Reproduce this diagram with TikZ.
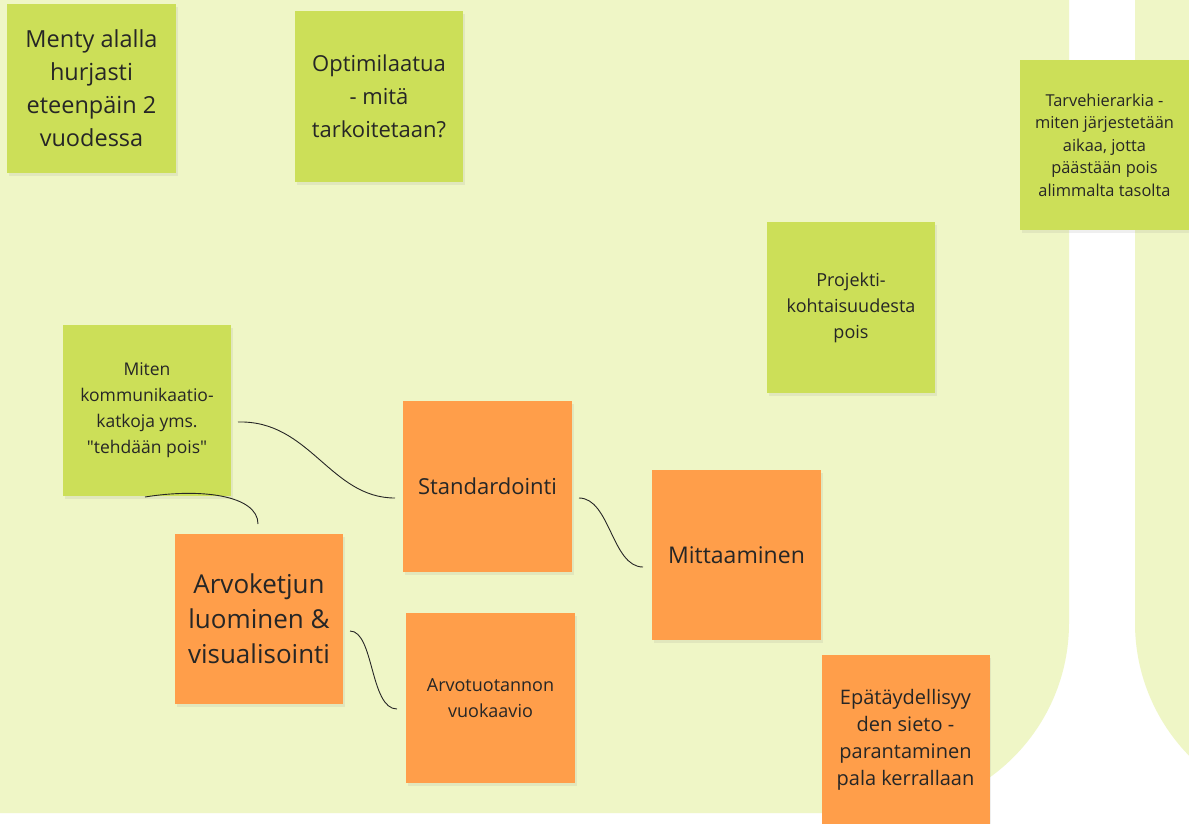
\documentclass[tikz,border=0pt]{standalone}
\usepackage{fontspec}
\setmainfont{Open Sans}
\font\plainquote="Open Sans" at 17.5pt
\usetikzlibrary{shadows}
\definecolor{bgzone}{HTML}{EFF6C6}
\definecolor{limenote}{HTML}{CCDF58}
\definecolor{orangenote}{HTML}{FF9E4A}
\definecolor{ink}{HTML}{262626}
\begin{document}
\begin{tikzpicture}[x=1pt,y=-1pt,
  note/.style={inner sep=0pt, align=center, text=ink,
    drop shadow={opacity=0.12, shadow xshift=1.5pt, shadow yshift=-2.5pt}},
  gnote/.style={note, fill=limenote},
  onote/.style={note, fill=orangenote},
  sz/.style 2 args={minimum width=#1pt, minimum height=#2pt},
  conn/.style={draw=ink, line width=0.9pt}]
\useasboundingbox (0,0) rectangle (1189,823);
\clip (0,0) rectangle (1189,823);
% background zones
\fill[white] (0,0) rectangle (1189,823);
\fill[bgzone] (0,0) -- (1069,0) -- (1069,623)
  .. controls (1069,727.9) and (983.9,813) .. (879,813) -- (0,813) -- cycle;
\fill[bgzone] (1135,0) -- (1135,623)
  .. controls (1135,727.9) and (1220.1,813) .. (1325,813) -- (1325,0) -- cycle;
% green notes
\node[gnote, sz={169}{169}, font=\fontsize{23.5}{33}\selectfont] (menty) at (91.5,88.5)
  {Menty alalla\\hurjasti\\eteenpäin 2\\vuodessa};
\node[gnote, sz={168}{171}, font=\fontsize{22}{33}\selectfont] (optimi) at (379,96.5)
  {Optimilaatua\\- mitä\\tarkoitetaan?};
\node[gnote, sz={169}{170}, font=\fontsize{16.4}{22.5}\selectfont] (tarve) at (1104.5,145)
  {Tarvehierarkia -\\miten järjestetään\\aikaa, jotta\\päästään pois\\alimmalta tasolta};
\node[gnote, sz={168}{171}, font=\fontsize{18}{26}\selectfont] (projekti) at (851,307.5)
  {Projekti-\\kohtaisuudesta\\pois};
\node[gnote, sz={168}{171}, font=\fontsize{17.5}{26}\selectfont] (miten) at (147,410.5)
  {Miten\\kommunikaatio-\\katkoja yms.\\{\plainquote"}tehdään pois{\plainquote"}};
% orange notes
\node[onote, sz={169}{171}, font=\fontsize{22}{30}\selectfont] (standard) at (487.5,486.5)
  {Standardointi};
\node[onote, sz={169}{170}, font=\fontsize{23}{30}\selectfont] (mitta) at (736.5,555)
  {Mittaaminen};
\node[onote, sz={168}{170}, font=\fontsize{26}{35}\selectfont] (arvoketju) at (259,619)
  {Arvoketjun\\luominen \&\\visualisointi};
\node[onote, sz={169}{170}, font=\fontsize{18}{26}\selectfont] (arvotuotanto) at (490.5,698)
  {Arvotuotannon\\vuokaavio};
\node[onote, sz={168}{170}, font=\fontsize{20}{27}\selectfont] (epataydell) at (905.5,740)
  {Epätäydellisyy\\den sieto -\\parantaminen\\pala kerrallaan};
% connector end points
\coordinate (mitenR) at (238,422);
\coordinate (stdL) at (395,498);
\coordinate (mitenB) at (145,497);
\coordinate (arvoT) at (258,524);
\coordinate (stdR) at (579,498);
\coordinate (mitL) at (643,567);
\coordinate (arvoR) at (350,631);
\coordinate (tuotL) at (397,709);
\draw[conn] (mitenR) .. controls (310,420) and (330,498) .. (stdL);
\draw[conn] (mitenB) .. controls (200,488) and (258,495) .. (arvoT);
\draw[conn] (stdR) .. controls (610,498) and (612,567) .. (mitL);
\draw[conn] (arvoR) .. controls (374,631) and (370,709) .. (tuotL);
\end{tikzpicture}
\end{document}
